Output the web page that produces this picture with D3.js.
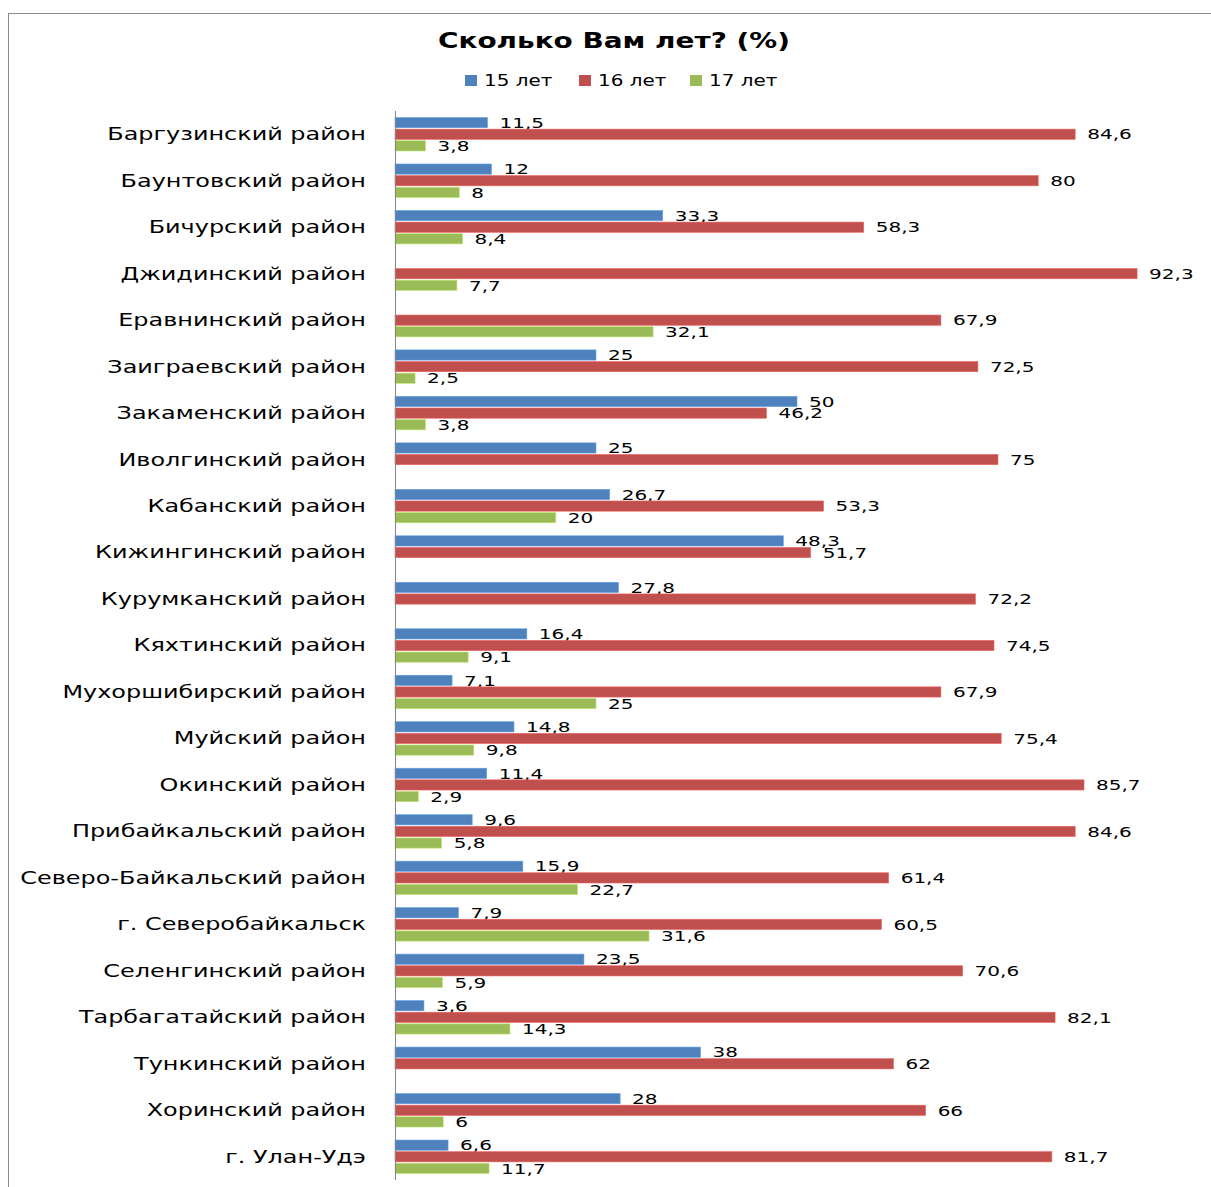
<!DOCTYPE html>
<html>
<head>
<meta charset="utf-8">
<script src="https://cdn.jsdelivr.net/npm/d3@7"></script>
<style>
  body { margin: 0; background: #fff; }
  text { font-family: "DejaVu Sans", sans-serif; fill: #000; }
</style>
</head>
<body>
<svg id="chart" width="1211" height="1187"></svg>
<script>
// data
const districts = [
  'Баргузинский район', 'Баунтовский район', 'Бичурский район', 'Джидинский район',
  'Еравнинский район', 'Заиграевский район', 'Закаменский район', 'Иволгинский район',
  'Кабанский район', 'Кижингинский район', 'Курумканский район', 'Кяхтинский район',
  'Мухоршибирский район', 'Муйский район', 'Окинский район', 'Прибайкальский район',
  'Северо-Байкальский район', 'г. Северобайкальск', 'Селенгинский район',
  'Тарбагатайский район', 'Тункинский район', 'Хоринский район', 'г. Улан-Удэ'
];
const age15 = [11.5, 12, 33.3, null, null, 25, 50, 25, 26.7, 48.3, 27.8, 16.4, 7.1, 14.8, 11.4, 9.6, 15.9, 7.9, 23.5, 3.6, 38, 28, 6.6];
const age16 = [84.6, 80, 58.3, 92.3, 67.9, 72.5, 46.2, 75, 53.3, 51.7, 72.2, 74.5, 67.9, 75.4, 85.7, 84.6, 61.4, 60.5, 70.6, 82.1, 62, 66, 81.7];
const age17 = [3.8, 8, 8.4, 7.7, 32.1, 2.5, 3.8, null, 20, null, null, 9.1, 25, 9.8, 2.9, 5.8, 22.7, 31.6, 5.9, 14.3, null, 6, 11.7];
const seriesNames = ['15 лет', '16 лет', '17 лет'];
const seriesColors = ['#4F81BD', '#C0504D', '#9BBB59'];
const titleText = 'Сколько Вам лет? (%)';

const series = [age15, age16, age17];
const SX = 1.33; // the source picture is stretched horizontally

const svg = d3.select('#chart');

// outer frame
svg.append('rect')
  .attr('x', 8.5).attr('y', 13.5)
  .attr('width', 1400).attr('height', 1400)
  .attr('fill', 'none')
  .attr('stroke', '#8c8c8c');

const x = d3.scaleLinear().domain([0, 100]).range([395, 1199]);
const y = d3.scaleBand().domain(districts).range([111, 1180]);
const ySub = d3.scaleBand().domain([0, 1, 2]).range([0, y.bandwidth()]).paddingOuter(0.56).paddingInner(0.12);

const fmt = v => String(v).replace('.', ',');

// bars
series.forEach((vals, s) => {
  const g = svg.append('g').attr('class', 'series-' + s);
  const rows = districts.map((d, i) => ({d: d, v: vals[i]})).filter(r => r.v != null);
  g.selectAll('rect')
    .data(rows)
    .enter().append('rect')
    .attr('x', x(0))
    .attr('y', r => y(r.d) + ySub(s))
    .attr('width', r => x(r.v) - x(0))
    .attr('height', ySub.bandwidth())
    .attr('fill', seriesColors[s])
    .attr('stroke', d3.color(seriesColors[s]).brighter(0.6))
    .attr('stroke-width', 0.6);

  g.selectAll('text')
    .data(rows)
    .enter().append('text')
    .attr('transform', r => `translate(${x(r.v) + 12},${y(r.d) + ySub(s) + ySub.bandwidth() / 2}) scale(1.38,1)`)
    .attr('dy', '0.36em')
    .style('font-size', '14.5px')
    .text(r => fmt(r.v));
});

// category axis
const yAxis = d3.axisLeft(y).tickSize(0).tickPadding(0);
const ax = svg.append('g')
  .attr('transform', `translate(${x(0)},0)`)
  .call(yAxis);
ax.select('.domain').attr('stroke', '#868686').attr('d', `M0.5,${y.range()[0]}V${y.range()[1]}`);
ax.selectAll('.tick text')
  .attr('x', null)
  .attr('font-family', null)
  .attr('font-size', null)
  .style('font-size', '18px')
  .attr('transform', `translate(-29,0) scale(${SX},1)`)
  .attr('dy', '0.33em');

// title
svg.append('text')
  .attr('transform', `translate(614,41) scale(${SX},1)`)
  .attr('text-anchor', 'middle')
  .attr('dy', '0.35em')
  .style('font-size', '21px')
  .style('font-weight', 'bold')
  .text(titleText);

// legend
const legendX = [465, 579, 690];
const legend = svg.append('g');
seriesNames.forEach((n, i) => {
  legend.append('rect')
    .attr('x', legendX[i]).attr('y', 75)
    .attr('width', 12).attr('height', 11)
    .attr('fill', seriesColors[i]);
  legend.append('text')
    .attr('transform', `translate(${legendX[i] + 19},81) scale(${SX},1)`)
    .attr('dy', '0.35em')
    .style('font-size', '15px')
    .text(n);
});
</script>
</body>
</html>
